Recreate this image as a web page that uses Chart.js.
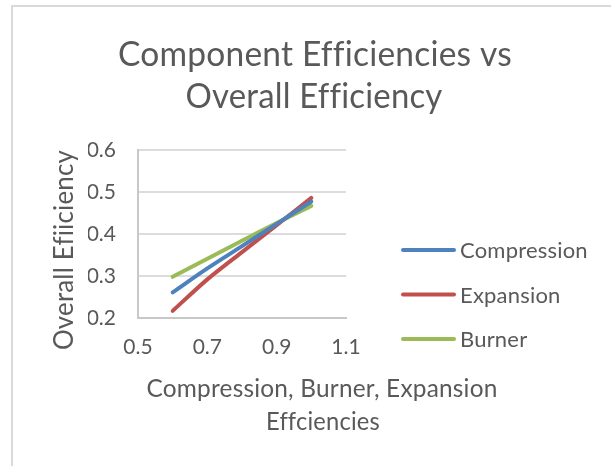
<!DOCTYPE html>
<html>
<head>
<meta charset="utf-8">
<script src="https://cdn.jsdelivr.net/npm/chart.js@4.4.1/dist/chart.umd.min.js"></script>
<style>
  html, body { margin: 0; padding: 0; background: #fff; overflow: hidden; }
  #frame {
    position: absolute; left: 11px; top: 5px; width: 700px; height: 600px;
    border-left: 2px solid #d9d9d9; border-top: 2px solid #d9d9d9;
  }
  #chart { position: absolute; left: 0; top: 0; }
</style>
</head>
<body>
<div id="frame"></div>
<canvas id="chart" width="611" height="466"></canvas>
<script>
// data
var effX = [0.6, 0.7, 0.8, 0.9, 1.0];
var compression = [0.261, 0.318, 0.371, 0.424, 0.477];
var expansion = [0.217, 0.292, 0.357, 0.421, 0.486];
var burner = [0.298, 0.341, 0.384, 0.426, 0.467];
var seriesNames = ['Compression', 'Expansion', 'Burner'];
var xTicks = [0.5, 0.7, 0.9, 1.1];
var yTicks = [0.2, 0.3, 0.4, 0.5, 0.6];
var titleLines = ['Component Efficiencies vs', 'Overall Efficiency'];
var xTitleLines = ['Compression, Burner, Expansion', 'Effciencies'];
var yTitle = 'Overall Efiiciency';

var colors = {
    blue: '#4f81bd',
    red: '#c0504d',
    green: '#9bbb59',
    text: '#595959',
    grid: '#dcdcdc',
    axis: '#c8c8c8'
};
var fontFamily = 'Lato, "Open Sans", sans-serif';

function points(ys) {
    return effX.map(function (x, i) { return {x: x, y: ys[i]}; });
}

function lineSet(label, ys, color) {
    return {
        label: label,
        data: points(ys),
        showLine: true,
        borderColor: color,
        backgroundColor: color,
        borderWidth: 4,
        borderCapStyle: 'round',
        tension: 0.3,
        pointRadius: 0,
        pointHoverRadius: 0
    };
}

// draws text centred at x, squeezed/stretched to the width seen in the picture
function fitText(ctx, text, x, y, size, width) {
    ctx.font = size + 'px ' + fontFamily;
    var w = ctx.measureText(text).width;
    ctx.save();
    ctx.translate(x, y);
    ctx.scale(width / w, 1);
    ctx.fillText(text, 0, 0);
    ctx.restore();
}

var excelText = {
    id: 'excelText',
    afterDraw: function (chart) {
        var ctx = chart.ctx;
        ctx.save();
        // a tiny letter spacing keeps "fi" / "ffi" as separate letters, like the original
        ctx.letterSpacing = '0.2px';
        ctx.fillStyle = colors.text;
        ctx.textAlign = 'center';
        ctx.textBaseline = 'alphabetic';

        // chart title
        fitText(ctx, titleLines[0], 315, 66, 34, 394);
        fitText(ctx, titleLines[1], 314, 108, 34, 257);

        // x axis title
        fitText(ctx, xTitleLines[0], 322, 397, 25, 351);
        fitText(ctx, xTitleLines[1], 323, 430, 25, 114);

        // y axis title
        ctx.save();
        ctx.translate(73, 250);
        ctx.rotate(-Math.PI / 2);
        fitText(ctx, yTitle, 0, 0, 26, 200);
        ctx.restore();

        // legend
        var items = Chart.defaults.plugins.legend.labels.generateLabels(chart);
        ctx.textAlign = 'left';
        ctx.textBaseline = 'middle';
        ctx.font = '22px ' + fontFamily;
        items.forEach(function (item, i) {
            var y = 250 + i * 44.5;
            ctx.strokeStyle = item.strokeStyle;
            ctx.lineWidth = 4;
            ctx.lineCap = 'round';
            ctx.beginPath();
            ctx.moveTo(403, y);
            ctx.lineTo(454, y);
            ctx.stroke();
            ctx.fillStyle = colors.text;
            ctx.fillText(item.text, 460, y + 1);
        });
        ctx.restore();
    }
};

function buildChart() {
    var ctx = document.getElementById('chart').getContext('2d');
    new Chart(ctx, {
        type: 'scatter',
        data: {
            datasets: [
                lineSet(seriesNames[0], compression, colors.blue),
                lineSet(seriesNames[1], expansion, colors.red),
                lineSet(seriesNames[2], burner, colors.green)
            ]
        },
        options: {
            responsive: false,
            animation: false,
            layout: {
                padding: {top: 150, left: 88, right: 265, bottom: 98}
            },
            plugins: {
                legend: {display: false},
                title: {display: false},
                tooltip: {enabled: false}
            },
            scales: {
                x: {
                    type: 'linear',
                    min: 0.5,
                    max: 1.1,
                    afterBuildTicks: function (scale) {
                        scale.ticks = xTicks.map(function (v) { return {value: v}; });
                    },
                    afterFit: function (scale) { scale.height = 50; },
                    grid: {display: false, drawTicks: false},
                    border: {display: true, color: colors.axis, width: 2},
                    ticks: {
                        color: colors.text,
                        padding: 17,
                        font: {family: fontFamily, size: 21},
                        callback: function (v) { return v.toFixed(1); }
                    }
                },
                y: {
                    type: 'linear',
                    min: 0.2,
                    max: 0.6,
                    afterBuildTicks: function (scale) {
                        scale.ticks = yTicks.map(function (v) { return {value: v}; });
                    },
                    afterFit: function (scale) { scale.width = 50; },
                    grid: {color: colors.grid, lineWidth: 2, drawTicks: false},
                    border: {display: true, color: colors.axis, width: 2},
                    ticks: {
                        color: colors.text,
                        padding: 22,
                        font: {family: fontFamily, size: 21},
                        callback: function (v) { return v.toFixed(1); }
                    }
                }
            }
        },
        plugins: [excelText]
    });
}

buildChart();
</script>
</body>
</html>
